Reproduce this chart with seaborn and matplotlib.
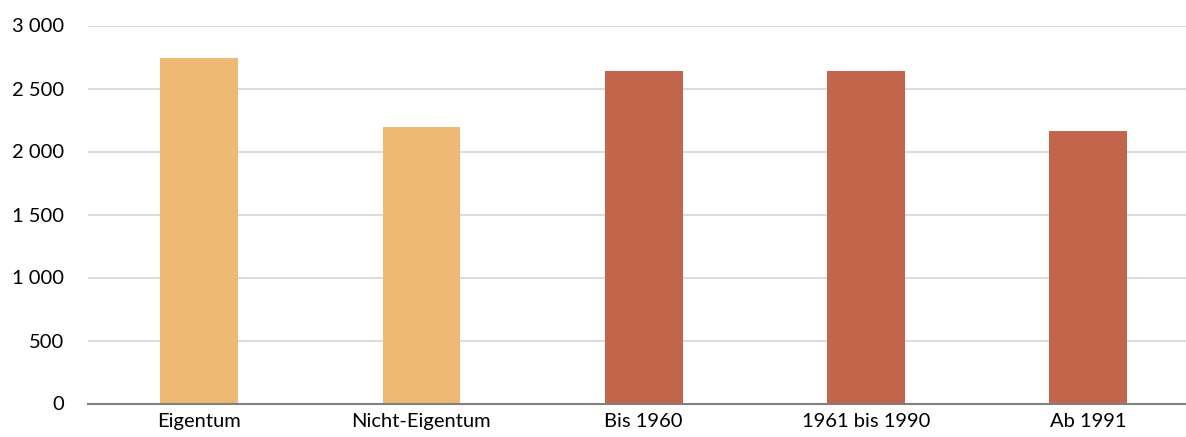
import matplotlib
matplotlib.use("Agg")
import matplotlib.pyplot as plt
import matplotlib.ticker as mticker
import pandas as pd
import seaborn as sns

# Werte
categories = ["Eigentum", "Nicht-Eigentum", "Bis 1960", "1961 bis 1990", "Ab 1991"]
values = [2745, 2198, 2635, 2635, 2165]
groups = ["Eigentum", "Eigentum", "Baujahr", "Baujahr", "Baujahr"]
yticks = [0, 500, 1000, 1500, 2000, 2500, 3000]

colors = {"Eigentum": "#EEB974", "Baujahr": "#C3654A"}

df = pd.DataFrame({"Kategorie": categories, "Wert": values, "Gruppe": groups})

sns.set_style("white")
plt.rcParams["font.family"] = ["Lato", "DejaVu Sans"]

fig = plt.figure(figsize=(11.86, 4.37), dpi=100)
ax = fig.add_axes([88 / 1186, 33.5 / 437, 1 - 88 / 1186, (437 - 33.5 - 25.5) / 437])

sns.barplot(data=df, x="Kategorie", y="Wert", hue="Gruppe", palette=colors,
            order=categories, dodge=False, width=0.35, legend=False, ax=ax,
            saturation=1, zorder=3, linewidth=0)

ax.set_ylim(0, 3000)
ax.set_xlim(-0.5, 4.44)
ax.set_yticks(yticks)
ax.yaxis.set_major_formatter(mticker.FuncFormatter(lambda v, p: f"{int(v):,}".replace(",", " ")))
ax.grid(axis="y", color="#D9D9D9", linewidth=1.3, zorder=0)
ax.set_axisbelow(True)
for s in ["top", "right", "left"]:
    ax.spines[s].set_visible(False)
ax.spines["bottom"].set_color("#7F7F7F")
ax.spines["bottom"].set_linewidth(1.5)
ax.spines["bottom"].set_zorder(4)
ax.tick_params(axis="both", length=0, labelsize=14.5, colors="#000000")
ax.tick_params(axis="y", pad=17)
ax.tick_params(axis="x", pad=7)
for lab in ax.get_yticklabels():
    lab.set_horizontalalignment("right")
ax.set_xlabel("")
ax.set_ylabel("")

fig.savefig("out.png", dpi=100)
